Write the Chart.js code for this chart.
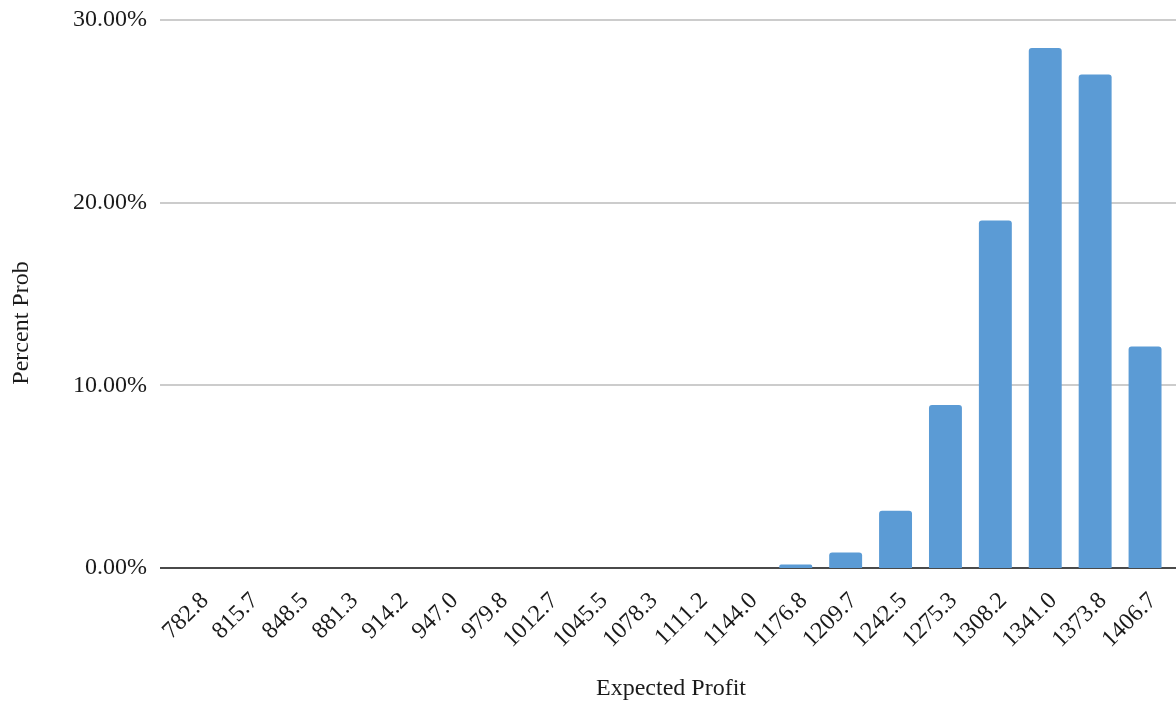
<!DOCTYPE html>
<html>
<head>
<meta charset="utf-8">
<script src="https://cdn.jsdelivr.net/npm/chart.js@4"></script>
<style>
  html, body { margin: 0; padding: 0; background: #ffffff; }
  #wrap { width: 1176px; height: 702px; position: relative; }
</style>
</head>
<body>
<div id="wrap"><canvas id="chart"></canvas></div>
<script>
// Expected profit bins and the probability of landing in each (percent)
const profitBins = ['782.8', '815.7', '848.5', '881.3', '914.2', '947.0', '979.8', '1012.7',
  '1045.5', '1078.3', '1111.2', '1144.0', '1176.8', '1209.7', '1242.5', '1275.3',
  '1308.2', '1341.0', '1373.8', '1406.7'];
const percentProb = [0, 0, 0, 0, 0, 0, 0, 0, 0, 0, 0, 0,
  0.19, 0.85, 3.13, 8.93, 19.03, 28.47, 27.01, 12.12];
const yTicks = [0, 10, 20, 30];

const FONT = '"Liberation Serif", "Times New Roman", serif';
const TEXT = '#1a1a1a';

// Horizontal gridlines spanning the full chart width, dark baseline at zero
const gridPlugin = {
  id: 'fullGrid',
  beforeDatasetsDraw(chart) {
    const { ctx, scales: { y } } = chart;
    ctx.save();
    yTicks.forEach(v => {
      const py = Math.round(y.getPixelForValue(v));
      ctx.beginPath();
      ctx.lineWidth = 2;
      ctx.strokeStyle = v === 0 ? '#4a4a4a' : '#cccccc';
      ctx.moveTo(chart.chartArea.left - 12, py);
      ctx.lineTo(chart.width, py);
      ctx.stroke();
    });
    ctx.restore();
  }
};

// Rotated category labels and axis titles
const labelPlugin = {
  id: 'axisText',
  afterDraw(chart) {
    const { ctx, scales: { x }, chartArea } = chart;
    ctx.save();
    ctx.fillStyle = TEXT;
    ctx.font = '24px ' + FONT;
    profitBins.forEach((lab, i) => {
      const px = x.getPixelForTick(i);
      ctx.save();
      ctx.translate(px + 8, chartArea.bottom + 29);
      ctx.rotate(-Math.PI / 4);
      ctx.textAlign = 'right';
      ctx.textBaseline = 'middle';
      ctx.fillText(lab, 0, 0);
      ctx.restore();
    });
    ctx.textAlign = 'center';
    ctx.textBaseline = 'middle';
    ctx.fillText('Expected Profit', (chartArea.left + chartArea.right) / 2, 689);
    ctx.save();
    ctx.translate(22, 323);
    ctx.rotate(-Math.PI / 2);
    ctx.fillText('Percent Prob', 0, 0);
    ctx.restore();
    ctx.restore();
  }
};

new Chart(document.getElementById('chart'), {
  type: 'bar',
  data: {
    labels: profitBins,
    datasets: [{
      label: 'Percent Prob',
      data: percentProb,
      backgroundColor: '#5b9bd5',
      borderWidth: 0,
      borderRadius: { topLeft: 3, topRight: 3, bottomLeft: 0, bottomRight: 0 },
      borderSkipped: 'bottom',
      categoryPercentage: 1.0,
      barPercentage: 0.66
    }]
  },
  options: {
    responsive: true,
    maintainAspectRatio: false,
    animation: false,
    layout: { padding: { top: 20, right: 6, left: 0, bottom: 0 } },
    plugins: { legend: { display: false }, tooltip: { enabled: false } },
    scales: {
      x: {
        grid: { display: false, drawTicks: false },
        border: { display: false },
        ticks: { display: false },
        afterFit(scale) {
          scale.height = 134;
          scale.paddingLeft = 0;
          scale.paddingRight = 0;
        }
      },
      y: {
        min: 0,
        max: 30,
        afterBuildTicks(scale) { scale.ticks = yTicks.map(v => ({ value: v })); },
        grid: { display: false, drawTicks: false },
        border: { display: false },
        ticks: {
          color: TEXT,
          font: { family: FONT, size: 24 },
          padding: 25,
          callback: v => v.toFixed(2) + '%'
        },
        afterFit(scale) {
          scale.width = 172;
          scale.paddingTop = 0;
          scale.paddingBottom = 0;
        }
      }
    }
  },
  plugins: [gridPlugin, labelPlugin]
});
</script>
</body>
</html>
